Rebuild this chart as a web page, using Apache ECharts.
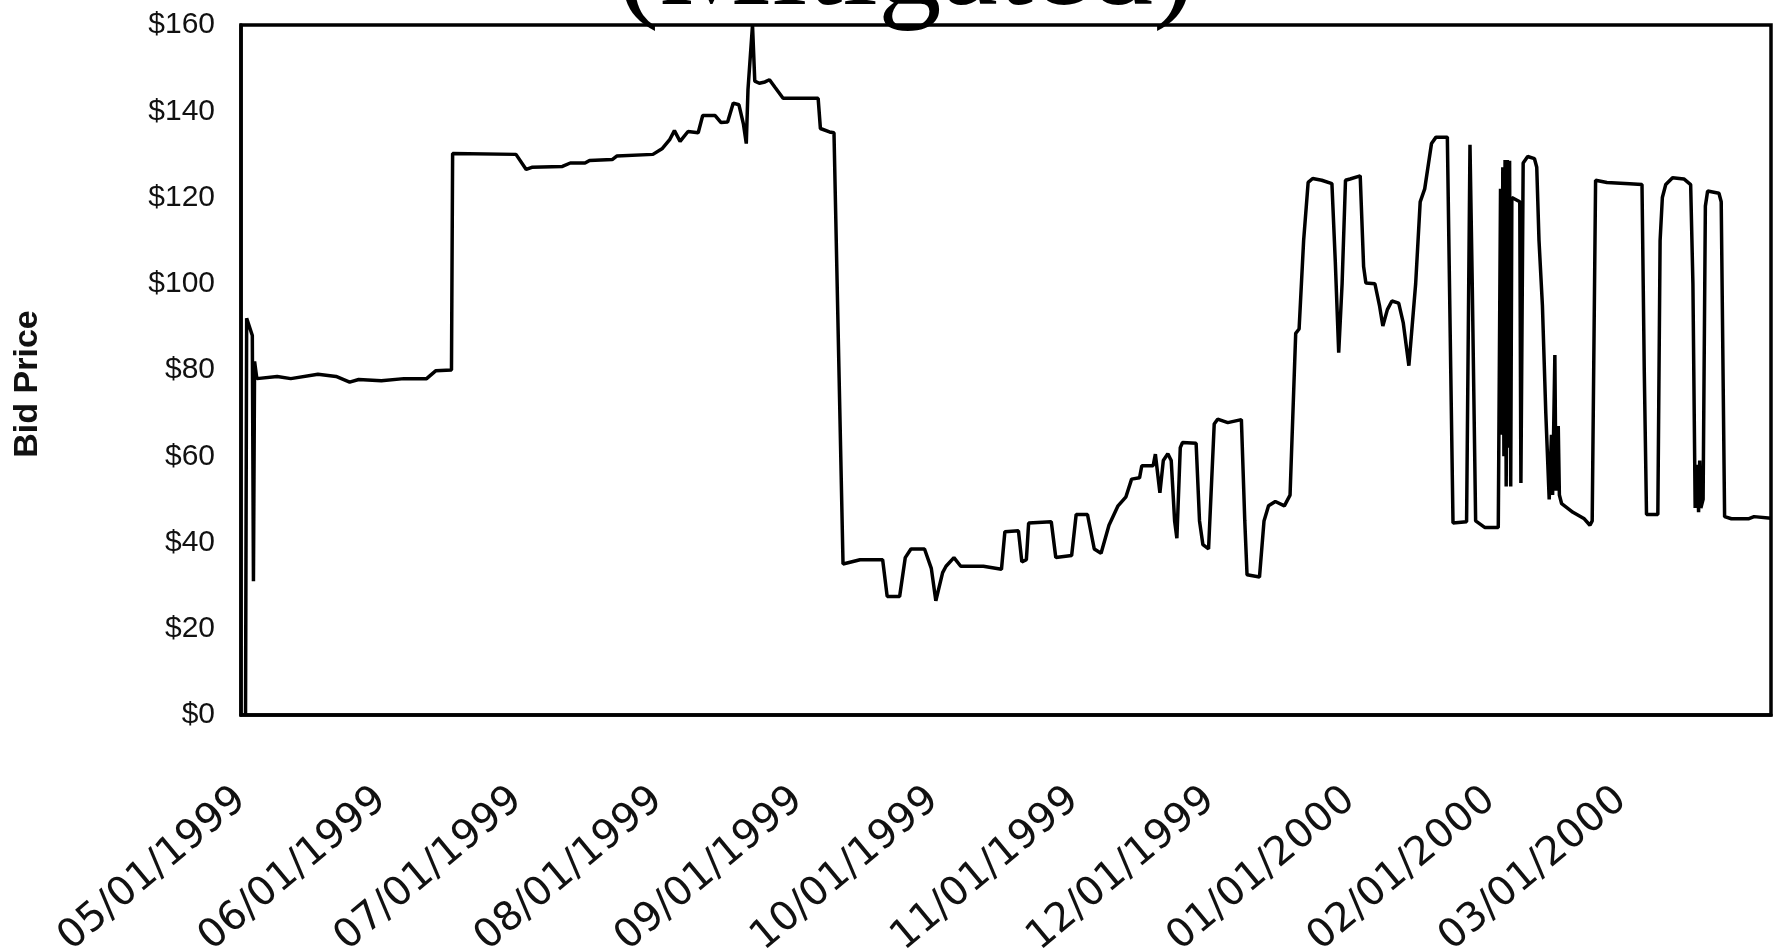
<!DOCTYPE html>
<html>
<head>
<meta charset="utf-8">
<script src="https://cdn.jsdelivr.net/npm/echarts@6/dist/echarts.min.js"></script>
<style>
html,body{margin:0;padding:0;background:#fff;}
#chart{width:1775px;height:950px;}
</style>
</head>
<body>
<div id="chart"></div>
<script>
// ---- data ----
const titleText = '(Mitigated)';
const yAxisName = 'Bid Price';
const tickLabels = ['1999-05-01','1999-06-01','1999-07-01','1999-08-01','1999-09-01','1999-10-01','1999-11-01','1999-12-01','2000-01-01','2000-02-01','2000-03-01'];
const yTicks = [0,20,40,60,80,100,120,140,160];
const dates = [
'1999-05-02 00:00','1999-05-02 06:00','1999-05-03 12:00','1999-05-03 18:00','1999-05-04 00:00','1999-05-04 12:00',
'1999-05-09','1999-05-12','1999-05-18','1999-05-22','1999-05-25','1999-05-27','1999-06-01','1999-06-06','1999-06-11','1999-06-13',
'1999-06-16 12:00','1999-06-16 18:00','1999-06-30 18:00','1999-07-03','1999-07-04 06:00','1999-07-11','1999-07-12 18:00','1999-07-16',
'1999-07-17','1999-07-22','1999-07-23','1999-07-31','1999-08-02','1999-08-03 18:00','1999-08-04 18:00','1999-08-06','1999-08-07 18:00',
'1999-08-10','1999-08-11','1999-08-13 18:00','1999-08-15','1999-08-16 12:00','1999-08-17 18:00','1999-08-19','1999-08-20','1999-08-20 15:00',
'1999-08-21','1999-08-22','1999-08-22 12:00','1999-08-23 12:00','1999-08-24 18:00','1999-08-25 18:00','1999-08-27','1999-08-28 18:00',
'1999-09-05 12:00','1999-09-06','1999-09-08','1999-09-09','1999-09-11','1999-09-14 18:00','1999-09-19 18:00','1999-09-20 18:00',
'1999-09-23 12:00','1999-09-24 18:00','1999-09-26','1999-09-29','1999-09-30 12:00','1999-10-01 12:00','1999-10-03','1999-10-03 18:00',
'1999-10-05 12:00','1999-10-07','1999-10-12','1999-10-16','1999-10-16 18:00','1999-10-19 18:00','1999-10-20 12:00','1999-10-21 12:00',
'1999-10-22','1999-10-27','1999-10-28','1999-10-31 12:00','1999-11-01 12:00','1999-11-04','1999-11-05 12:00','1999-11-07',
'1999-11-08 18:00','1999-11-10 18:00','1999-11-12 12:00','1999-11-13 18:00','1999-11-15 12:00','1999-11-16','1999-11-18 12:00','1999-11-19',
'1999-11-19 12:00','1999-11-20','1999-11-20 18:00','1999-11-21 18:00','1999-11-22 12:00','1999-11-23 06:00','1999-11-23 18:00','1999-11-24 12:00',
'1999-11-25','1999-11-28','1999-11-28 18:00','1999-11-29 12:00','1999-11-30 18:00','1999-12-02','1999-12-02 18:00','1999-12-05',
'1999-12-08','1999-12-08 18:00','1999-12-09 06:00','1999-12-12','1999-12-13','1999-12-14','1999-12-15 12:00','1999-12-17 12:00',
'1999-12-18 18:00','1999-12-20','1999-12-20 18:00','1999-12-21 18:00','1999-12-22 18:00','1999-12-23 18:00','1999-12-25 18:00','1999-12-28',
'1999-12-28 18:00','1999-12-29 12:00','1999-12-30 06:00','1999-12-31','2000-01-01','2000-01-03 06:00','2000-01-04','2000-01-04 12:00',
'2000-01-06 12:00','2000-01-07 12:00','2000-01-08 06:00','2000-01-09 06:00','2000-01-10 06:00','2000-01-11 18:00','2000-01-12 18:00','2000-01-14',
'2000-01-15 12:00','2000-01-16 12:00','2000-01-17 12:00','2000-01-19','2000-01-20','2000-01-22 12:00','2000-01-23 06:00','2000-01-23 18:00',
'2000-01-26 18:00','2000-01-27 12:00','2000-01-28','2000-01-28 18:00','2000-01-30 18:00','2000-02-02 18:00',
'2000-02-03 06:00','2000-02-03 12:00','2000-02-03 18:00','2000-02-04 00:00','2000-02-04 06:00','2000-02-04 12:00','2000-02-04 18:00',
'2000-02-05 00:00','2000-02-05 06:00','2000-02-05 12:00','2000-02-05 18:00','2000-02-07 12:00','2000-02-07 18:00','2000-02-08 06:00',
'2000-02-09 06:00','2000-02-10 18:00','2000-02-11 06:00','2000-02-11 18:00','2000-02-12 12:00','2000-02-13 06:00','2000-02-14 00:00',
'2000-02-14 12:00','2000-02-14 18:00','2000-02-15 06:00','2000-02-15 12:00','2000-02-16 00:00','2000-02-16 06:00','2000-02-16 18:00',
'2000-02-19 06:00','2000-02-21 18:00','2000-02-23 00:00','2000-02-23 12:00','2000-02-24 06:00','2000-02-26 18:00','2000-03-02 18:00',
'2000-03-05 12:00','2000-03-06 00:00','2000-03-06 12:00','2000-03-09 00:00','2000-03-09 12:00','2000-03-10 00:00','2000-03-10 18:00',
'2000-03-12 06:00','2000-03-14 18:00','2000-03-16 06:00','2000-03-16 18:00','2000-03-17 06:00','2000-03-17 18:00','2000-03-18 00:00',
'2000-03-18 06:00','2000-03-18 12:00','2000-03-19 00:00','2000-03-19 12:00','2000-03-20 00:00','2000-03-22 12:00','2000-03-23 00:00',
'2000-03-23 18:00','2000-03-25 06:00','2000-03-29 00:00','2000-03-30 06:00','2000-04-03 00:00'
];
const bids = [
0,92,88,31,82,78,
78.5,78,79,78.5,77.2,77.8,77.5,78,78,79.8,
80,130.2,130,126.5,127,127.2,128,128,
128.6,128.8,129.6,130,131.3,133.5,135.5,133,135.3,
135,139,139,137.4,137.5,141.9,141.5,137,132.5,
145,160,147,146.5,146.8,147.3,145.5,143,
143,136,135.2,135,35,36,36,27.5,
27.5,36.5,38.5,38.5,34,26.5,33,34.5,
36.5,34.5,34.5,33.8,42.5,42.7,35.5,36,
44.5,44.8,36.5,37,46.5,46.5,38.5,37.5,
44,48.5,50.6,54.7,55,57.8,57.8,60.5,
56,51.5,59,60.6,59,45,41,62,
63.2,63,45,39.5,38.5,67.5,68.6,67.8,
68.5,45,32.5,32,45,48.5,49.5,48.5,
51,88.5,89.5,110,123.5,124.4,124,123.2,
105,84,100,124,124.3,125,104,100.2,
100,95,90.2,94,96,95.5,91,81,
100,119,122,132.5,134,134,80,44.5,
44.8,132.2,100,45,43.5,43.5,
122,65,127,60,128.7,53,128.7,
62,128.5,53,120,119,53.8,128,
129.5,129,127,110,95,70,50,
65,51,83.5,52,67,51,49,
47,45.5,44,45,124,123.5,123.2,
123,80,46.5,46.5,110,120,123,
124.6,124.3,123,100,48,58,47,
59,48,50,118,121.5,121,119,
46,45.5,45.5,46,45.6
];
const xMin = '1999-05-01';
const xMax = '2000-04-03';

// ---- chart ----
const toTime = s => echarts.number.parseDate(s).getTime();
const seriesData = dates.map((d, i) => [toTime(d), bids[i]]);
const tickValues = tickLabels.map(toTime);
function pad(n){ return (n < 10 ? '0' : '') + n; }

const chart = echarts.init(document.getElementById('chart'));
chart.setOption({
  animation: false,
  backgroundColor: '#ffffff',
  graphic: [{
    type: 'text',
    x: 906,
    y: 34,
    style: {
      text: titleText,
      fontFamily: '"Liberation Serif", "DejaVu Serif", serif',
      fontSize: 127,
      fill: '#000',
      align: 'center',
      verticalAlign: 'bottom'
    }
  }],
  grid: {
    left: 241, right: 4, top: 25, bottom: 235,
    containLabel: false,
    outerBoundsMode: 'none',
    show: true, borderColor: '#000', borderWidth: 3.5, backgroundColor: 'transparent'
  },
  xAxis: {
    type: 'value',
    min: toTime(xMin),
    max: toTime(xMax),
    axisLine: { show: true, onZero: false, lineStyle: { color: '#000', width: 3.5 } },
    axisTick: { show: false },
    splitLine: { show: false },
    axisLabel: {
      customValues: tickValues,
      rotate: 40,
      margin: 80,
      color: '#111',
      fontFamily: '"DejaVu Sans", Arial, sans-serif',
      fontSize: 40,
      formatter: function (v) {
        const d = new Date(v);
        return pad(d.getMonth() + 1) + '/' + pad(d.getDate()) + '/' + d.getFullYear();
      }
    }
  },
  yAxis: {
    type: 'value',
    min: 0,
    max: 160,
    interval: 20,
    name: yAxisName,
    nameLocation: 'middle',
    nameRotate: 90,
    nameGap: 196,
    nameTextStyle: { color: '#111', fontWeight: 'bold', fontSize: 34, fontFamily: '"Liberation Sans", Arial, sans-serif', padding: [0, 28, 0, 0] },
    axisLine: { show: true, lineStyle: { color: '#000', width: 3.5 } },
    axisTick: { show: false },
    splitLine: { show: false },
    axisLabel: {
      margin: 26,
      color: '#111',
      fontSize: 30,
      fontFamily: '"Liberation Sans", Arial, sans-serif',
      formatter: v => '$' + v
    }
  },
  series: [{
    type: 'line',
    data: seriesData,
    showSymbol: false,
    symbol: 'none',
    lineStyle: { color: '#000', width: 3.5 },
    clip: true
  }]
});
</script>
</body>
</html>
